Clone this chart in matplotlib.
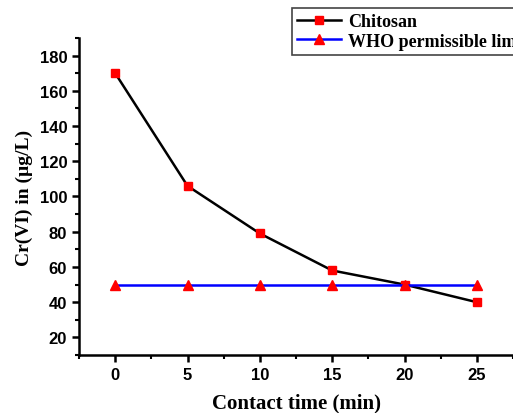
import numpy as np
import matplotlib.pyplot as plt
from matplotlib.ticker import MultipleLocator

# contact time (min) vs residual Cr(VI)
time_min = [0, 5, 10, 15, 20, 25]
chitosan = [170, 106, 79, 58, 50, 40]
who_limit = [50, 50, 50, 50, 50, 50]

plt.rcParams['font.family'] = ['Liberation Sans', 'DejaVu Sans']

fig = plt.figure(figsize=(5.13, 4.14), dpi=100)
ax = fig.add_axes([0.154, 0.14, 0.846, 0.766])

l1, = ax.plot(time_min, chitosan, '-s', color='black', lw=1.8,
              mfc='red', mec='red', ms=6, label='Chitosan')
l2, = ax.plot(time_min, who_limit, '-^', color='blue', lw=1.8,
              mfc='red', mec='red', ms=7, label='WHO permissible limit')

ax.set_xlim(-2.5, 27.5)
ax.set_ylim(10, 190)
ax.xaxis.set_major_locator(MultipleLocator(5))
ax.xaxis.set_minor_locator(MultipleLocator(2.5))
ax.yaxis.set_major_locator(MultipleLocator(20))
ax.yaxis.set_minor_locator(MultipleLocator(10))

for s in ['top', 'right']:
    ax.spines[s].set_visible(False)
for s in ['left', 'bottom']:
    ax.spines[s].set_linewidth(1.8)

ax.tick_params(which='major', direction='out', length=5, width=1.8, labelsize=12)
ax.tick_params(which='minor', direction='out', length=3, width=1.5)
for lab in ax.get_xticklabels() + ax.get_yticklabels():
    lab.set_fontweight('bold')

ax.set_xlabel('Contact time (min)', family='Liberation Serif', fontweight='bold',
              fontsize=15, labelpad=8)
ax.set_ylabel('Cr(VI) in (µg/L)', family='Liberation Serif', fontweight='bold',
              fontsize=14, labelpad=5)

leg = fig.legend(handles=[l1, l2], loc='upper left', bbox_to_anchor=(292/513, 1-9/414),
                 prop={'family': 'Liberation Serif', 'weight': 'bold', 'size': 13},
                 fancybox=False, edgecolor='#444444', framealpha=1,
                 handlelength=2.4, handletextpad=0.4, borderpad=0.3, labelspacing=0.12,
                 borderaxespad=0)
leg.get_frame().set_linewidth(1.2)

fig.savefig('out.png', dpi=100)
